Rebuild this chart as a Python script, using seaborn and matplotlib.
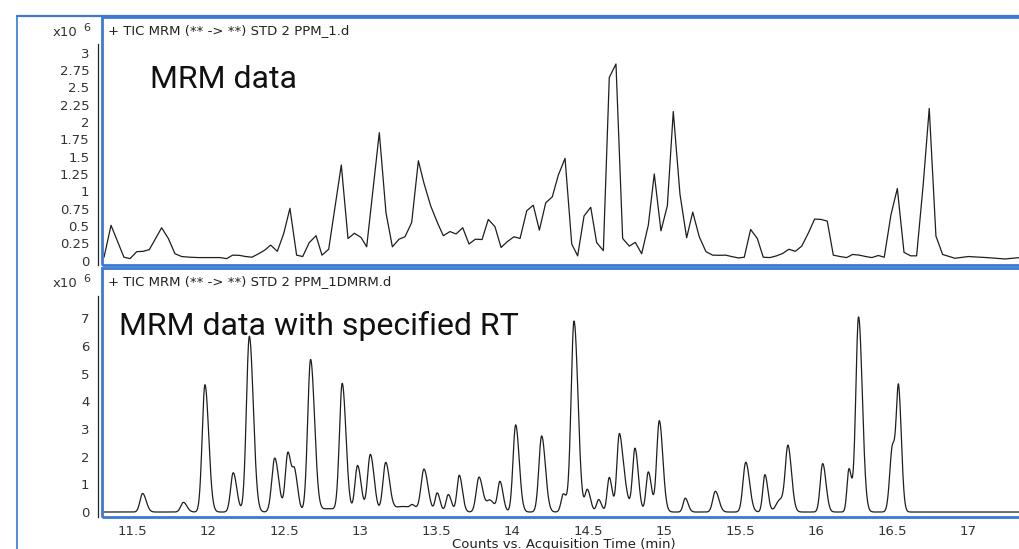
import numpy as np
import pandas as pd
import matplotlib
matplotlib.use("Agg")
import matplotlib.pyplot as plt
from matplotlib.patches import Rectangle
from matplotlib.lines import Line2D
from matplotlib.ticker import FuncFormatter
import seaborn as sns

# ---- full-scan TIC (coarse sampling), time in min, counts in 1e6 ----
tic_time = [11.316, 11.362, 11.447, 11.487, 11.531, 11.574, 11.614, 11.695, 11.739, 11.783,
            11.827, 11.882, 11.936, 11.991, 12.035, 12.079, 12.123, 12.162, 12.206, 12.248,
            12.289, 12.337, 12.375, 12.412, 12.456, 12.498, 12.539, 12.583, 12.623, 12.666,
            12.711, 12.750, 12.794, 12.877, 12.921, 12.963, 13.007, 13.044, 13.127, 13.171,
            13.213, 13.257, 13.296, 13.340, 13.384, 13.421, 13.465, 13.509, 13.548, 13.592,
            13.632, 13.676, 13.717, 13.759, 13.803, 13.844, 13.888, 13.928, 13.969, 14.013,
            14.053, 14.097, 14.140, 14.180, 14.222, 14.265, 14.305, 14.349, 14.393, 14.432,
            14.474, 14.518, 14.557, 14.601, 14.640, 14.684, 14.728, 14.772, 14.811, 14.853,
            14.897, 14.936, 14.980, 15.022, 15.061, 15.105, 15.149, 15.189, 15.232, 15.276,
            15.320, 15.363, 15.406, 15.445, 15.489, 15.528, 15.570, 15.614, 15.653, 15.697,
            15.741, 15.781, 15.822, 15.864, 15.906, 15.950, 15.991, 16.033, 16.074, 16.114,
            16.158, 16.202, 16.241, 16.285, 16.327, 16.368, 16.410, 16.449, 16.493, 16.535,
            16.579, 16.623, 16.662, 16.706, 16.745, 16.789, 16.833, 16.914, 17.002, 17.122,
            17.243, 17.342]
tic_counts = [0.05, 0.51, 0.05, 0.03, 0.13, 0.135, 0.16, 0.475, 0.32, 0.10,
              0.06, 0.05, 0.045, 0.045, 0.045, 0.045, 0.03, 0.08, 0.077, 0.06,
              0.05, 0.105, 0.155, 0.225, 0.135, 0.39, 0.755, 0.08, 0.06, 0.26,
              0.36, 0.08, 0.165, 1.38, 0.32, 0.395, 0.335, 0.20, 1.845, 0.69,
              0.20, 0.31, 0.345, 0.55, 1.44, 1.115, 0.79, 0.55, 0.36, 0.42,
              0.385, 0.475, 0.24, 0.31, 0.305, 0.595, 0.49, 0.19, 0.275, 0.345,
              0.32, 0.72, 0.80, 0.44, 0.835, 0.92, 1.235, 1.475, 0.24, 0.07,
              0.645, 0.77, 0.26, 0.145, 2.64, 2.835, 0.32, 0.21, 0.265, 0.10,
              0.515, 1.25, 0.43, 0.79, 2.15, 0.96, 0.33, 0.70, 0.345, 0.13,
              0.08, 0.078, 0.08, 0.06, 0.04, 0.05, 0.45, 0.32, 0.05, 0.045,
              0.07, 0.105, 0.165, 0.135, 0.21, 0.40, 0.60, 0.595, 0.57, 0.08,
              0.06, 0.045, 0.09, 0.08, 0.06, 0.045, 0.075, 0.05, 0.66, 1.04,
              0.12, 0.07, 0.07, 1.115, 2.195, 0.355, 0.09, 0.035, 0.06, 0.045,
              0.025, 0.045]

# ---- dynamic MRM peak table: retention time (min), apex (1e6 counts), sigma (min) ----
peak_rt = [11.570, 11.838, 11.980, 12.166, 12.272, 12.439, 12.526, 12.572, 12.675, 12.790,
           12.883, 12.984, 13.068, 13.169, 13.280, 13.344, 13.421, 13.508, 13.581, 13.653,
           13.783, 13.855, 13.921, 14.024, 14.195, 14.338, 14.408, 14.496, 14.570, 14.640,
           14.706, 14.745, 14.809, 14.897, 14.969, 15.140, 15.338, 15.538, 15.664, 15.765,
           15.816, 16.044, 16.217, 16.280, 16.504, 16.544]
peak_height = [0.67, 0.35, 4.60, 1.42, 6.35, 1.95, 2.15, 1.25, 5.50, 0.12,
               4.60, 1.68, 2.08, 1.75, 0.20, 0.12, 1.50, 0.68, 0.63, 1.33,
               1.26, 0.42, 1.08, 3.15, 2.75, 0.65, 6.90, 0.80, 0.45, 1.25,
               2.80, 0.65, 2.30, 1.45, 3.30, 0.50, 0.75, 1.80, 1.35, 0.45,
               2.25, 1.75, 1.55, 7.05, 2.40, 3.95]
peak_sigma = [0.016, 0.016, 0.017, 0.016, 0.018, 0.018, 0.016, 0.014, 0.018, 0.05,
              0.017, 0.016, 0.017, 0.017, 0.06, 0.012, 0.018, 0.013, 0.014, 0.014,
              0.017, 0.020, 0.014, 0.016, 0.017, 0.014, 0.018, 0.014, 0.013, 0.013,
              0.015, 0.015, 0.015, 0.014, 0.016, 0.013, 0.016, 0.017, 0.013, 0.025,
              0.016, 0.015, 0.012, 0.017, 0.017, 0.013]

x_ticks = [11.5, 12, 12.5, 13, 13.5, 14, 14.5, 15, 15.5, 16, 16.5, 17]
top_yticks = [0, 0.25, 0.5, 0.75, 1, 1.25, 1.5, 1.75, 2, 2.25, 2.5, 2.75, 3]
bottom_yticks = [0, 1, 2, 3, 4, 5, 6, 7]

top_title = "+ TIC MRM (** -> **) STD 2 PPM_1.d"
bottom_title = "+ TIC MRM (** -> **) STD 2 PPM_1DMRM.d"
top_note = "MRM data"
bottom_note = "MRM data with specified RT"
x_label = "Counts vs. Acquisition Time (min)"

# build the dMRM trace from the peak table (slight tailing on the right side)
t_grid = np.linspace(11.30, 17.45, 4000)
trace = np.zeros_like(t_grid)
for rt, h, s in zip(peak_rt, peak_height, peak_sigma):
    s = s * 1.07
    sig = np.where(t_grid < rt, s, s * 1.35)
    trace += h * np.exp(-0.5 * ((t_grid - rt) / sig) ** 2)

tic_df = pd.DataFrame({"time": tic_time, "counts": tic_counts})
dmrm_df = pd.DataFrame({"time": t_grid, "counts": trace})

sns.set_style("white")
plt.rcParams["font.family"] = ["DejaVu Sans"]

W, H = 1020, 549
fig = plt.figure(figsize=(W / 100, H / 100), dpi=100)

BLUE = "#3c79d3"
LINE = "#1e1e1e"
LABEL = "#333333"
XMIN = 11.5 - 30 / 152.0
XMAX = 11.5 + (1030 - 132) / 152.0


def px_box(x0, y0, x1, y1):
    return [x0 / W, 1 - y1 / H, (x1 - x0) / W, (y1 - y0) / H]


ax_top = fig.add_axes(px_box(102, 17, 1030, 265))
ax_bot = fig.add_axes(px_box(102, 268, 1030, 517))

sns.lineplot(data=tic_df, x="time", y="counts", ax=ax_top, color=LINE, lw=0.9,
             sort=False, estimator=None)
sns.lineplot(data=dmrm_df, x="time", y="counts", ax=ax_bot, color=LINE, lw=0.9,
             sort=False, estimator=None)

fmt = FuncFormatter(lambda v, _: f"{v:g}")
for ax, yt, ylim, ybound in [(ax_top, top_yticks, (-0.062, 3.512), (-0.06, 3.12)),
                             (ax_bot, bottom_yticks, (-0.18, 8.818), (-0.17, 7.8))]:
    ax.set_xlim(XMIN, XMAX)
    ax.set_ylim(*ylim)
    ax.set_xlabel("")
    ax.set_ylabel("")
    ax.set_yticks(yt)
    ax.yaxis.set_major_formatter(fmt)
    for side in ("top", "right", "bottom"):
        ax.spines[side].set_visible(False)
    ax.spines["left"].set_position(("outward", 3))
    ax.spines["left"].set_bounds(*ybound)
    ax.spines["left"].set_color("#222222")
    ax.spines["left"].set_linewidth(0.9)
    ax.tick_params(axis="y", direction="out", length=4, width=0.8, color=LABEL,
                   pad=2, labelsize=9.5, labelcolor=LABEL)
    ax.add_patch(Rectangle((0, 0), 1, 1, transform=ax.transAxes, fill=False,
                           edgecolor=BLUE, lw=2.0, clip_on=False, zorder=5))

ax_top.set_xticks([])
ax_bot.set_xticks(x_ticks)
ax_bot.xaxis.set_major_formatter(fmt)
ax_bot.tick_params(axis="x", direction="out", length=5, width=0.8, color="#444444",
                   pad=1, labelsize=9.5, labelcolor=LABEL)

# trace titles inside the frames
fig.text(108 / W, 1 - 31 / H, top_title, fontsize=9.5, color="#222222", va="center")
fig.text(108 / W, 1 - 282 / H, bottom_title, fontsize=9.5, color="#222222", va="center")

# exponent labels
for yc in (32, 283):
    fig.text(77 / W, 1 - yc / H, "x10", fontsize=9.5, color=LABEL, ha="right", va="center")
    fig.text(83 / W, 1 - (yc - 4) / H, "6", fontsize=8, color=LABEL, ha="left", va="center")

# large annotations
fig.text(150 / W, 1 - 88 / H, top_note, fontsize=23, family="Roboto",
         color="#111111", va="baseline")
fig.text(119 / W, 1 - 335 / H, bottom_note, fontsize=23, family="Roboto",
         color="#111111", va="baseline")

fig.text(564 / W, 1 - 538 / H, x_label, fontsize=9.5, color="#222222", ha="center", va="top")

# outer panel frame
fig.add_artist(Line2D([17 / W, 17 / W], [0, 1 - 16 / H], transform=fig.transFigure,
                      color="#4a8fe0", lw=1.4))
fig.add_artist(Line2D([17 / W, 1], [1 - 16 / H, 1 - 16 / H], transform=fig.transFigure,
                      color=BLUE, lw=1.6))

fig.savefig("out.png", dpi=100)
